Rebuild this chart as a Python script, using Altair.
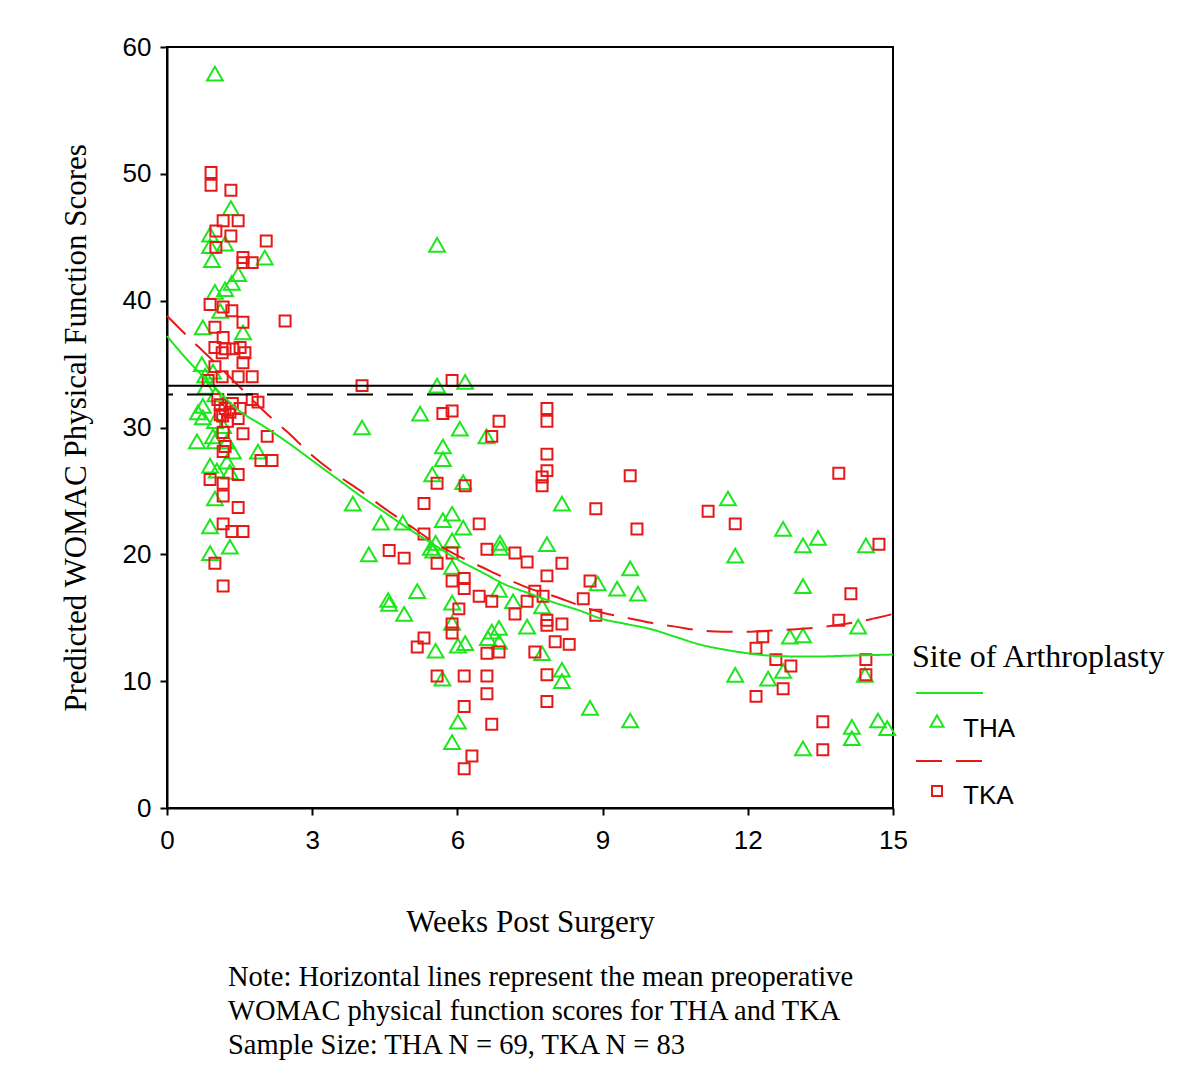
import altair as alt
import pandas as pd

# ---------------- data ----------------
site_domain = ["THA", "TKA"]
site_colors = ["#1ee61e", "#e61919"]

# THA observations (triangles)
tha_weeks = [0.99, 1.32, 0.89, 1.20, 0.89, 2.02, 0.93, 1.47, 1.34, 1.20, 0.99, 1.10,
             0.74, 1.57, 0.72, 0.95, 0.79, 0.80, 1.00, 0.74, 0.64, 0.74, 0.99, 1.16,
             0.62, 0.95, 0.99, 1.24, 1.36, 1.88, 0.89, 1.24, 1.03, 1.30, 0.99, 0.89,
             1.30, 0.89,
             4.03, 3.84, 4.42, 4.87, 4.17, 4.57, 4.59, 4.90, 5.17, 5.55, 5.69, 5.45,
             5.55, 5.50, 5.89, 6.12, 5.70, 5.89, 5.70, 5.70, 5.48, 6.12, 5.89, 5.89,
             5.89, 6.01, 6.16, 6.01, 5.89, 6.71, 6.86, 6.63, 6.86, 6.88, 6.88, 6.86,
             7.15, 7.44, 7.75, 7.75, 7.85, 8.16, 8.16, 8.16, 8.74, 6.60, 6.05, 5.58,
             5.58, 6.16, 5.23,
             11.59, 11.74, 9.57, 8.90, 9.30, 9.73, 12.73, 13.14, 13.45, 14.44, 13.14,
             14.28, 12.87, 13.14, 11.74, 12.42, 12.73, 14.42, 9.57, 13.14, 14.15, 14.15,
             14.69, 14.88]
tha_scores = [57.9, 47.3, 45.2, 44.5, 44.3, 43.4, 43.2, 42.1, 41.4, 40.9, 40.7, 39.2,
              37.9, 37.5, 35.0, 34.4, 34.1, 33.2, 32.6, 31.7, 31.2, 30.8, 30.5, 30.1,
              28.9, 29.3, 28.9, 28.9, 28.1, 28.1, 27.0, 27.3, 26.6, 26.5, 24.4, 22.2,
              20.6, 20.1,
              30.0, 24.0, 22.5, 22.5, 20.0, 16.4, 16.1, 15.3, 17.1, 12.4, 10.2, 20.5,
              20.9, 20.3, 21.1, 22.1, 22.7, 23.2, 27.5, 28.5, 26.3, 25.7, 19.0, 16.2,
              14.6, 12.8, 13.0, 6.8, 5.2, 13.9, 14.2, 13.4, 13.1, 20.9, 20.5, 17.2,
              16.3, 14.3, 15.9, 12.2, 20.8, 24.0, 10.9, 10.0, 7.9, 29.3, 29.9, 44.4,
              33.3, 33.6, 31.1,
              24.4, 19.9, 18.9, 17.7, 17.3, 16.9, 22.0, 20.7, 21.3, 20.7, 17.5,
              14.3, 13.5, 13.6, 10.5, 10.2, 10.8, 10.5, 6.9, 4.7, 6.4, 5.5,
              6.9, 6.3]

# TKA observations (squares)
tka_weeks = [0.91, 0.91, 1.32, 1.16, 1.47, 1.01, 1.32, 2.05, 1.01, 1.57, 1.57, 1.76,
             0.89, 1.16, 1.34, 1.57, 2.44, 0.99, 1.16, 0.99, 1.20, 1.36, 1.51, 1.61,
             1.14, 1.57, 0.99, 1.14, 1.47, 1.76, 0.85,
             1.05, 1.76, 1.88, 1.51, 1.47, 1.16, 1.57, 2.07, 1.20,
             1.10, 1.20, 1.30, 1.15, 1.25, 1.35, 1.10,
             1.16, 1.47, 0.89, 1.16, 1.16, 1.47, 1.16, 1.34, 1.57, 0.99, 1.16, 1.94, 2.17,
             4.03, 5.89, 5.70, 5.89, 6.86, 7.85, 7.85, 6.71, 7.85, 7.85, 7.75, 7.75,
             5.58, 6.16, 5.31, 6.45, 5.31, 4.59, 4.90, 5.58, 5.89, 6.61, 7.19, 7.44,
             8.16, 7.85, 5.89, 6.14, 6.14, 6.45, 6.71, 7.44, 7.60, 7.77, 8.60, 8.74,
             8.86, 6.03, 7.19, 7.85, 7.85, 8.16, 5.89, 5.89, 5.31, 5.17, 6.61, 6.86,
             7.60, 8.02, 8.31, 5.58, 6.14, 6.61, 7.85, 6.61, 6.14, 6.71, 7.85, 6.30,
             6.14, 8.86,
             9.57, 9.71, 11.18, 11.74, 13.88, 14.13, 14.71, 13.88, 12.31, 12.17, 12.58,
             12.89, 12.73, 12.17, 14.44, 14.44, 13.55, 13.55]
tka_scores = [50.1, 49.1, 48.7, 46.3, 46.3, 45.5, 45.1, 44.7, 44.2, 43.4, 43.0, 43.0,
              39.7, 39.5, 39.2, 38.3, 38.4, 37.9, 37.1, 36.3, 36.2, 36.2, 36.3, 35.9,
              35.9, 35.1, 34.8, 34.0, 34.0, 34.0, 33.7,
              32.2, 32.2, 32.0, 31.5, 30.7, 29.6, 29.5, 29.3, 28.5,
              31.8, 31.5, 31.2, 30.9, 30.5, 31.9, 31.0,
              28.1, 26.3, 25.9, 25.6, 24.6, 23.7, 22.4, 21.8, 21.8, 19.3, 17.5, 27.4, 27.4,
              33.3, 33.7, 31.1, 31.3, 30.5, 31.5, 30.5, 29.3, 27.9, 26.6, 26.1, 25.4,
              25.6, 25.4, 24.0, 22.4, 21.6, 20.3, 19.7, 19.3, 20.1, 20.4, 20.1, 19.4,
              19.3, 18.3, 17.9, 18.1, 17.3, 16.7, 16.3, 16.3, 17.1, 16.7, 16.5, 17.9,
              23.6, 15.7, 15.3, 14.8, 14.4, 14.5, 14.5, 13.8, 13.4, 12.7, 12.2, 12.3,
              12.3, 13.1, 12.9, 10.4, 10.4, 10.4, 10.5, 9.0, 8.0, 6.6, 8.4, 4.1,
              3.1, 15.2,
              26.2, 22.0, 23.4, 22.4, 26.4, 16.9, 20.8, 14.8, 13.5, 12.6, 11.7,
              11.2, 9.4, 8.8, 11.7, 10.5, 6.8, 4.6]

# fitted curves
curve_weeks = [0, 0.5, 1, 1.5, 2, 2.5, 3, 3.5, 4, 4.5, 5, 5.5, 6, 6.5, 7, 7.5, 8,
               8.5, 9, 9.5, 10, 10.5, 11, 11.5, 12, 12.5, 13, 13.5, 14, 14.5, 15]
tha_curve = [37.2, 35.0, 33.1, 31.3, 30.1, 28.8, 27.4, 26.0, 24.6, 23.3, 22.0, 20.8,
             19.6, 18.6, 17.6, 16.9, 16.2, 15.6, 14.9, 14.5, 14.1, 13.5, 12.9, 12.5,
             12.2, 12.0, 11.95, 11.95, 12.0, 12.05, 12.1]
tka_curve = [38.8, 36.9, 35.1, 33.2, 31.3, 29.6, 27.8, 26.3, 25.0, 23.6, 22.3, 21.0,
             19.9, 19.0, 18.1, 17.3, 16.7, 16.0, 15.4, 15.0, 14.6, 14.3, 14.0, 13.9,
             13.9, 14.0, 14.1, 14.25, 14.5, 14.85, 15.3]

# mean preoperative scores
preop_site = ["THA", "TKA"]
preop_mean = [33.3, 32.6]

x_ticks = [0, 3, 6, 9, 12, 15]
y_ticks = [0, 10, 20, 30, 40, 50, 60]

note_lines = ["Note: Horizontal lines represent the mean preoperative",
              "WOMAC physical function scores for THA and TKA",
              "Sample Size: THA N = 69, TKA N = 83"]

# ---------------- tables ----------------
tha_df = pd.DataFrame({"week": tha_weeks, "score": tha_scores, "site": "THA"})
tka_df = pd.DataFrame({"week": tka_weeks, "score": tka_scores, "site": "TKA"})
curve_df = pd.concat([
    pd.DataFrame({"week": curve_weeks, "score": tha_curve, "site": "THA"}),
    pd.DataFrame({"week": curve_weeks, "score": tka_curve, "site": "TKA"}),
])
preop_df = pd.DataFrame({"site": preop_site, "score": preop_mean})
one = pd.DataFrame({"k": [0]})

SERIF = "Liberation Serif"
SANS = "Liberation Sans"

x_enc = alt.X("week:Q",
              scale=alt.Scale(domain=[0, 15], nice=False, zero=False),
              axis=alt.Axis(values=x_ticks, title="Weeks Post Surgery", labelFlush=False,
                            labelPadding=12, titlePadding=54, format="d"))
y_enc = alt.Y("score:Q",
              scale=alt.Scale(domain=[0, 60], nice=False),
              axis=alt.Axis(values=y_ticks, title="Predicted WOMAC Physical Function Scores",
                            labelPadding=9, titlePadding=30, format="d"))

color_scale = alt.Scale(domain=site_domain, range=site_colors)
dash_scale = alt.Scale(domain=site_domain, range=[[1, 0], [26, 14]])

tha_pts = alt.Chart(tha_df).mark_point(shape="triangle-up", size=250, filled=False,
                                       strokeWidth=2, color=site_colors[0], opacity=1).encode(
    x=x_enc, y=y_enc)
tka_pts = alt.Chart(tka_df).mark_point(shape="square", size=120, filled=False,
                                       strokeWidth=2, color=site_colors[1], opacity=1).encode(
    x=x_enc, y=y_enc)

curves = alt.Chart(curve_df).mark_line(strokeWidth=2, interpolate="monotone").encode(
    x=x_enc, y=y_enc,
    color=alt.Color("site:N", scale=color_scale, legend=None),
    strokeDash=alt.StrokeDash("site:N", scale=dash_scale, legend=None),
)

preop = alt.Chart(preop_df).mark_rule(color="black", strokeWidth=2).encode(
    y=y_enc,
    strokeDash=alt.StrokeDash("site:N", scale=dash_scale, legend=None),
)

# ---------------- manual legend ----------------
leg_title = alt.Chart(one).mark_text(align="left", baseline="alphabetic", font=SERIF,
                                     fontSize=32, color="black").encode(
    x=alt.value(745), y=alt.value(620), text=alt.value("Site of Arthroplasty"))
leg_line_tha = alt.Chart(one).mark_rule(color=site_colors[0], strokeWidth=2).encode(
    x=alt.value(749), x2=alt.value(816), y=alt.value(646))
leg_sym_tha = alt.Chart(one).mark_point(shape="triangle-up", size=170, filled=False,
                                        strokeWidth=2, color=site_colors[0], opacity=1).encode(
    x=alt.value(770), y=alt.value(674))
leg_lab_tha = alt.Chart(one).mark_text(align="left", baseline="alphabetic", font=SANS,
                                       fontSize=26, color="black").encode(
    x=alt.value(796), y=alt.value(690), text=alt.value("THA"))
leg_line_tka = alt.Chart(one).mark_rule(color=site_colors[1], strokeWidth=2,
                                        strokeDash=[26, 14]).encode(
    x=alt.value(749), x2=alt.value(816), y=alt.value(714))
leg_sym_tka = alt.Chart(one).mark_point(shape="square", size=100, filled=False,
                                        strokeWidth=2, color=site_colors[1], opacity=1).encode(
    x=alt.value(770), y=alt.value(744))
leg_lab_tka = alt.Chart(one).mark_text(align="left", baseline="alphabetic", font=SANS,
                                       fontSize=26, color="black").encode(
    x=alt.value(796), y=alt.value(757), text=alt.value("TKA"))

note = alt.Chart(one).mark_text(align="left", baseline="alphabetic", font=SERIF,
                                fontSize=28.5, lineHeight=34, color="black").encode(
    x=alt.value(61), y=alt.value(939), text=alt.value(note_lines))

chart = alt.layer(
    tha_pts, tka_pts, curves, preop,
    leg_title, leg_line_tha, leg_sym_tha, leg_lab_tha,
    leg_line_tka, leg_sym_tka, leg_lab_tka, note,
).properties(
    width=726, height=761,
    autosize=alt.AutoSizeParams(type="none"),
    padding={"left": 159, "top": 39, "right": 290, "bottom": 265},
).configure_view(
    stroke="black", strokeWidth=2,
).configure_axis(
    grid=False, domainColor="black", domainWidth=2, tickColor="black", tickWidth=2,
    tickSize=7, labelFont=SANS, labelFontSize=26, labelColor="black",
    titleFont=SERIF, titleFontSize=31, titleFontWeight="normal", titleColor="black",
)

chart.save("out.html", embed_options={"renderer": "svg", "actions": False})
